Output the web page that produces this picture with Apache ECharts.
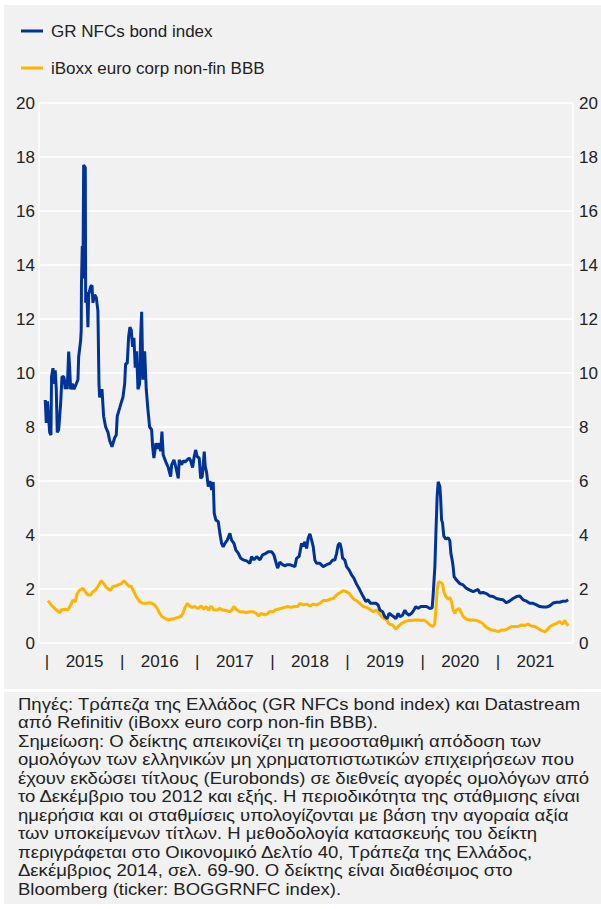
<!DOCTYPE html>
<html>
<head>
<meta charset="utf-8">
<script src="https://cdn.jsdelivr.net/npm/echarts@6/dist/echarts.min.js"></script>
<style>
html,body{margin:0;padding:0;background:#ffffff;}
#chart{width:601px;height:909px;}
</style>
</head>
<body>
<div id="chart"></div>
<script>
// Series names
const seriesNames = ['GR NFCs bond index', 'iBoxx euro corp non-fin BBB'];

// Year (decimal) / yield (%) pairs
const grNfcsIndex = [
[2014.977,9.0],[2014.991,8.15],[2015.007,8.95],[2015.036,7.8],[2015.053,7.7],[2015.061,9.86],[2015.080,10.18],
[2015.102,9.6],[2015.110,10.1],[2015.124,9.4],[2015.137,7.8],[2015.156,7.9],[2015.169,8.38],[2015.182,8.88],
[2015.200,9.86],[2015.226,9.86],[2015.243,9.4],[2015.257,9.75],[2015.270,9.4],[2015.289,10.79],[2015.302,10.2],
[2015.315,9.4],[2015.337,9.6],[2015.359,9.4],[2015.390,9.6],[2015.412,9.75],[2015.422,10.6],[2015.448,11.2],
[2015.456,11.6],[2015.459,13.3],[2015.470,14.7],[2015.479,13.5],[2015.488,17.7],[2015.510,17.6],[2015.515,12.6],
[2015.532,13.0],[2015.545,11.7],[2015.555,12.9],[2015.581,13.2],[2015.599,13.25],[2015.612,12.6],[2015.635,12.9],
[2015.656,12.8],[2015.678,12.3],[2015.692,9.6],[2015.701,9.1],[2015.732,9.4],[2015.754,8.4],[2015.781,8.0],
[2015.812,7.8],[2015.834,7.5],[2015.865,7.27],[2015.901,7.6],[2015.922,7.7],[2015.935,8.4],[2015.967,8.7],
[2015.988,8.9],[2016.011,9.1],[2016.034,9.6],[2016.047,10.35],[2016.068,10.35],[2016.087,11.35],[2016.104,11.7],
[2016.121,11.6],[2016.140,10.97],[2016.157,11.3],[2016.175,10.2],[2016.193,10.8],[2016.211,9.4],[2016.233,9.6],
[2016.247,11.4],[2016.260,12.27],[2016.277,9.75],[2016.300,10.8],[2016.321,9.4],[2016.344,8.63],[2016.366,8.0],
[2016.393,7.9],[2016.406,7.27],[2016.423,6.85],[2016.450,7.4],[2016.467,7.2],[2016.494,7.4],[2016.513,7.1],
[2016.530,7.83],[2016.547,6.96],[2016.583,6.7],[2016.614,6.5],[2016.646,6.16],[2016.659,6.6],[2016.690,6.78],
[2016.716,6.5],[2016.747,6.1],[2016.760,6.78],[2016.792,6.6],[2016.813,6.75],[2016.836,6.7],[2016.866,6.78],
[2016.893,6.85],[2016.912,6.75],[2016.938,6.5],[2016.956,6.85],[2016.978,7.15],[2017.000,6.9],[2017.026,6.85],
[2017.045,6.1],[2017.066,6.16],[2017.079,6.6],[2017.093,7.09],[2017.106,6.55],[2017.125,6.3],[2017.146,5.79],
[2017.168,6.0],[2017.191,5.67],[2017.212,5.96],[2017.226,4.8],[2017.248,4.55],[2017.279,4.5],[2017.301,4.06],
[2017.324,3.69],[2017.345,3.56],[2017.368,3.69],[2017.399,3.81],[2017.434,4.06],[2017.457,3.81],[2017.488,3.69],
[2017.514,3.44],[2017.545,3.33],[2017.577,3.14],[2017.611,3.08],[2017.657,3.04],[2017.700,2.95],[2017.723,3.2],
[2017.754,3.08],[2017.790,3.2],[2017.834,3.08],[2017.869,3.26],[2017.900,3.3],[2017.944,3.38],[2017.989,3.38],
[2018.020,3.26],[2018.046,3.0],[2018.069,2.77],[2018.100,3.0],[2018.136,2.9],[2018.166,2.86],[2018.197,2.9],
[2018.233,2.9],[2018.299,2.83],[2018.322,3.14],[2018.356,3.2],[2018.388,3.69],[2018.410,3.57],[2018.432,3.75],
[2018.455,3.5],[2018.476,3.88],[2018.499,4.04],[2018.521,3.82],[2018.543,3.57],[2018.565,3.07],[2018.588,2.95],
[2018.632,2.95],[2018.676,2.83],[2018.721,2.9],[2018.765,2.95],[2018.801,3.07],[2018.831,3.07],[2018.854,3.32],
[2018.875,3.63],[2018.898,3.7],[2018.920,3.45],[2018.934,3.14],[2018.964,3.07],[2018.987,2.83],[2019.022,2.7],
[2019.053,2.52],[2019.084,2.4],[2019.120,2.18],[2019.164,1.96],[2019.208,1.72],[2019.244,1.54],[2019.274,1.6],
[2019.306,1.47],[2019.341,1.47],[2019.377,1.47],[2019.407,1.41],[2019.430,1.22],[2019.466,1.16],[2019.497,0.97],
[2019.527,0.9],[2019.554,1.1],[2019.586,1.03],[2019.616,0.97],[2019.643,0.9],[2019.673,1.1],[2019.696,0.97],
[2019.732,1.03],[2019.763,1.22],[2019.785,1.1],[2019.820,1.03],[2019.852,1.1],[2019.882,1.22],[2019.909,1.35],
[2019.940,1.28],[2019.971,1.35],[2020.006,1.35],[2020.051,1.35],[2020.095,1.28],[2020.126,1.3],[2020.139,1.78],
[2020.162,2.83],[2020.175,4.0],[2020.192,5.42],[2020.206,5.97],[2020.228,5.8],[2020.238,5.4],[2020.251,4.56],
[2020.264,4.45],[2020.281,3.96],[2020.308,3.85],[2020.339,3.9],[2020.361,3.79],[2020.375,3.32],[2020.392,3.08],
[2020.405,2.83],[2020.418,2.46],[2020.450,2.33],[2020.494,2.2],[2020.538,2.15],[2020.583,2.02],[2020.627,1.96],
[2020.671,1.9],[2020.716,1.96],[2020.738,1.98],[2020.760,1.85],[2020.804,1.87],[2020.849,1.83],[2020.893,1.74],
[2020.937,1.72],[2020.982,1.65],[2021.026,1.62],[2021.070,1.6],[2021.115,1.49],[2021.159,1.56],[2021.203,1.65],
[2021.249,1.72],[2021.292,1.74],[2021.336,1.6],[2021.382,1.55],[2021.425,1.47],[2021.469,1.47],[2021.515,1.41],
[2021.558,1.35],[2021.602,1.33],[2021.648,1.33],[2021.692,1.38],[2021.735,1.48],[2021.781,1.51],[2021.825,1.51],
[2021.868,1.55],[2021.914,1.56],[2021.935,1.6]
];

const iboxxBBB = [
[2015.013,1.57],[2015.057,1.41],[2015.102,1.28],[2015.169,1.12],[2015.190,1.22],[2015.235,1.25],[2015.279,1.22],
[2015.315,1.41],[2015.346,1.59],[2015.376,1.53],[2015.403,1.84],[2015.435,1.96],[2015.479,2.02],[2015.510,1.90],
[2015.545,1.78],[2015.581,1.78],[2015.612,1.90],[2015.643,1.96],[2015.678,2.09],[2015.722,2.31],[2015.758,2.19],
[2015.789,2.06],[2015.821,1.99],[2015.847,1.96],[2015.878,2.09],[2015.909,2.11],[2015.945,2.15],[2015.988,2.19],
[2016.024,2.31],[2016.055,2.21],[2016.087,2.11],[2016.121,2.09],[2016.157,1.90],[2016.188,1.72],[2016.233,1.53],
[2016.277,1.47],[2016.321,1.47],[2016.366,1.49],[2016.397,1.47],[2016.433,1.41],[2016.467,1.28],[2016.499,1.10],
[2016.530,0.98],[2016.574,0.91],[2016.619,0.85],[2016.654,0.88],[2016.699,0.91],[2016.743,0.95],[2016.779,0.98],
[2016.809,1.10],[2016.832,1.28],[2016.866,1.47],[2016.898,1.37],[2016.929,1.32],[2016.965,1.35],[2017.009,1.28],
[2017.053,1.37],[2017.089,1.25],[2017.119,1.35],[2017.151,1.22],[2017.186,1.37],[2017.222,1.22],[2017.266,1.22],
[2017.297,1.28],[2017.341,1.22],[2017.385,1.20],[2017.430,1.16],[2017.461,1.22],[2017.488,1.35],[2017.518,1.25],
[2017.564,1.16],[2017.607,1.16],[2017.651,1.12],[2017.697,1.16],[2017.740,1.16],[2017.784,1.10],[2017.816,1.00],
[2017.851,1.10],[2017.896,1.04],[2017.931,1.07],[2017.963,1.16],[2018.007,1.16],[2018.037,1.22],[2018.073,1.25],
[2018.109,1.28],[2018.162,1.32],[2018.206,1.35],[2018.250,1.32],[2018.295,1.35],[2018.339,1.35],[2018.366,1.47],
[2018.410,1.41],[2018.455,1.44],[2018.499,1.37],[2018.543,1.44],[2018.588,1.41],[2018.632,1.47],[2018.676,1.57],
[2018.721,1.57],[2018.765,1.62],[2018.809,1.65],[2018.854,1.78],[2018.898,1.86],[2018.942,1.94],[2018.987,1.90],
[2019.022,1.84],[2019.053,1.72],[2019.084,1.62],[2019.120,1.57],[2019.164,1.47],[2019.208,1.35],[2019.253,1.32],
[2019.297,1.25],[2019.341,1.16],[2019.386,1.22],[2019.421,1.10],[2019.453,0.98],[2019.483,0.91],[2019.519,0.85],
[2019.554,0.70],[2019.599,0.67],[2019.643,0.51],[2019.673,0.61],[2019.719,0.73],[2019.763,0.79],[2019.806,0.83],
[2019.852,0.83],[2019.896,0.85],[2019.940,0.85],[2019.985,0.83],[2020.015,0.85],[2020.051,0.79],[2020.095,0.67],
[2020.131,0.61],[2020.158,0.67],[2020.175,1.22],[2020.192,1.96],[2020.211,2.27],[2020.238,2.24],[2020.264,2.19],
[2020.281,1.90],[2020.308,1.72],[2020.339,1.62],[2020.361,1.69],[2020.384,1.53],[2020.405,1.22],[2020.428,1.10],
[2020.450,1.22],[2020.485,1.28],[2020.517,1.10],[2020.538,0.98],[2020.583,0.88],[2020.627,0.85],[2020.671,0.85],
[2020.716,0.83],[2020.760,0.79],[2020.796,0.73],[2020.827,0.63],[2020.871,0.54],[2020.916,0.48],[2020.960,0.46],
[2021.004,0.42],[2021.049,0.48],[2021.093,0.48],[2021.137,0.54],[2021.182,0.61],[2021.226,0.61],[2021.270,0.61],
[2021.315,0.67],[2021.359,0.65],[2021.403,0.70],[2021.448,0.63],[2021.492,0.61],[2021.536,0.54],[2021.581,0.46],
[2021.625,0.42],[2021.656,0.48],[2021.692,0.61],[2021.735,0.67],[2021.781,0.73],[2021.825,0.79],[2021.860,0.70],
[2021.891,0.83],[2021.914,0.73],[2021.940,0.63]
];

// X-axis: year separators and year labels
const yearLabels = ['2015','2016','2017','2018','2019','2020','2021'];
const yearStarts = [2015,2016,2017,2018,2019,2020,2021];

// Y-axis range
const yMin = 0, yMax = 20, yStep = 2;

const notesLines = [
'Πηγές: Τράπεζα της Ελλάδος (GR NFCs bond index) και Datastream',
'από Refinitiv (iBoxx euro corp non-fin BBB).',
'Σημείωση: Ο δείκτης απεικονίζει τη μεσοσταθμική απόδοση των',
'ομολόγων των ελληνικών μη χρηματοπιστωτικών επιχειρήσεων που',
'έχουν εκδώσει τίτλους (Eurobonds) σε διεθνείς αγορές ομολόγων από',
'το Δεκέμβριο του 2012 και εξής. Η περιοδικότητα της στάθμισης είναι',
'ημερήσια και οι σταθμίσεις υπολογίζονται με βάση την αγοραία αξία',
'των υποκείμενων τίτλων. Η μεθοδολογία κατασκευής του δείκτη',
'περιγράφεται στο Οικονομικό Δελτίο 40, Τράπεζα της Ελλάδος,',
'Δεκέμβριος 2014, σελ. 69-90. Ο δείκτης είναι διαθέσιμος στο',
'Bloomberg (ticker: BOGGRNFC index).'
];

const FONT = '"Liberation Sans", Arial, Helvetica, sans-serif';
const TXT = '#222222';

// tick positions: year starts get '|', mid-years get the year label
const xLabelValues = [];
yearStarts.forEach(y => { xLabelValues.push(y); xLabelValues.push(y + 0.5); });

const chart = echarts.init(document.getElementById('chart'), null, {renderer: 'svg'});
chart.setOption({
  animation: false,
  backgroundColor: '#ffffff',
  textStyle: {fontFamily: FONT},
  graphic: [
    {type: 'rect', left: 4, top: 5, shape: {width: 597, height: 684}, style: {fill: '#f1f1f1'}, z: -10, silent: true},
    {type: 'rect', left: 4, top: 692, shape: {width: 597, height: 212}, style: {fill: '#f1f1f1'}, z: -10, silent: true},
    {type: 'text', x: 18, y: 695, scaleX: 1.09, z: 10,
     style: {text: notesLines.join('\n'), font: '17px ' + FONT, fill: TXT, lineHeight: 18.5}}
  ],
  legend: {
    orient: 'vertical', left: 16, top: 16, itemGap: 17,
    icon: 'rect', itemWidth: 22, itemHeight: 3,
    textStyle: {fontSize: 17, color: TXT, lineHeight: 20, padding: [0, 0, 0, 3], fontFamily: FONT},
    data: seriesNames
  },
  grid: {left: 39, right: 28, top: 103, bottom: 266, containLabel: false},
  xAxis: {
    type: 'value', min: 2014.894, max: 2022.0,
    axisLine: {show: false}, axisTick: {show: false}, splitLine: {show: false},
    axisLabel: {
      customValues: xLabelValues,
      formatter: v => (Math.abs(v - Math.round(v)) < 1e-6 ? '|' : yearLabels[yearStarts.indexOf(Math.floor(v))]),
      color: TXT, fontSize: 17, margin: 10, fontFamily: FONT
    }
  },
  yAxis: [
    {type: 'value', position: 'left', min: yMin, max: yMax, interval: yStep,
     axisLine: {show: true, lineStyle: {color: '#ffffff', width: 1.5}}, axisTick: {show: false},
     splitLine: {show: true, lineStyle: {color: '#ffffff', width: 1.5}},
     axisLabel: {color: TXT, fontSize: 17, margin: 4, fontFamily: FONT}},
    {type: 'value', position: 'right', min: yMin, max: yMax, interval: yStep,
     axisLine: {show: true, lineStyle: {color: '#ffffff', width: 1.5}}, axisTick: {show: false},
     splitLine: {show: false},
     axisLabel: {color: TXT, fontSize: 17, margin: 6, fontFamily: FONT}}
  ],
  series: [
    {name: seriesNames[0], type: 'line', data: grNfcsIndex, showSymbol: false, symbol: 'none',
     lineStyle: {color: '#003399', width: 3}, itemStyle: {color: '#003399'}, z: 3},
    {name: seriesNames[1], type: 'line', data: iboxxBBB, showSymbol: false, symbol: 'none',
     lineStyle: {color: '#FFB400', width: 3}, itemStyle: {color: '#FFB400'}, z: 2}
  ]
});
</script>
</body>
</html>
